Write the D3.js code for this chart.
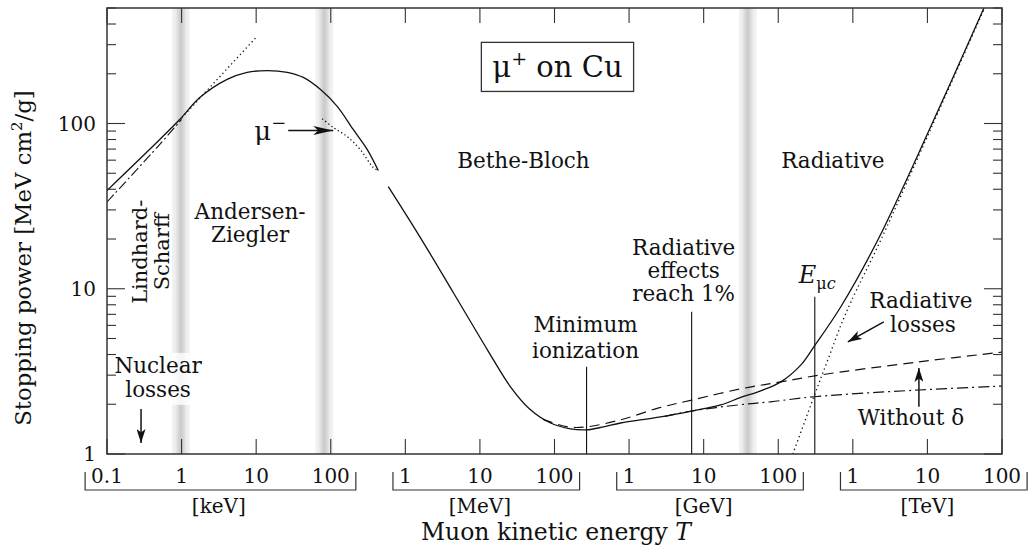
<!DOCTYPE html>
<html><head><meta charset="utf-8">
<script src="https://cdn.jsdelivr.net/npm/d3@7"></script>
<style>
body{margin:0;background:#fff}
svg{display:block}
text{font-family:"DejaVu Serif",serif;fill:#111}
</style>
</head><body>
<svg id="c" width="1031" height="552"></svg>
<script>
// ---------------- DATA (kinetic energy T in MeV, stopping power in MeV cm^2/g) ----------------
// mu+ total, low-energy (Andersen-Ziegler) part
const lowT = [1e-4, 5.1e-4, 9.5e-4, 1.77e-3, 4.08e-3, 7.57e-3, 0.0141, 0.0261, 0.0428, 0.0723, 0.122, 0.200, 0.309, 0.434];
const lowS = [39.3, 80, 106, 144, 185, 204, 209, 204, 190, 161, 127, 92, 69.5, 51.9];
// mu+ total, Bethe-Bloch + radiative part
const mainT = [0.591, 1.59, 4.41, 12.6, 25.7, 47.6, 88.4, 164, 269, 455, 769, 2500, 6900, 16900, 31400, 58200, 108000, 200000, 300000, 690000, 2170000, 11100000, 57300000];
const mainS = [41.5, 20.4, 9.46, 4.27, 2.55, 1.85, 1.54, 1.42, 1.40, 1.46, 1.54, 1.67, 1.82, 1.98, 2.2, 2.41, 2.73, 3.45, 4.45, 7.78, 19.8, 95.9, 500];
// mu- (dotted)
const muMinusT = [0.0769, 0.108, 0.166, 0.249, 0.372, 0.434];
const muMinusS = [107, 94.6, 83.4, 69.5, 54.1, 51.9];
// Lindhard-Scharff (dotted)
const lindT = [1e-3, 1.03e-2];
const lindS = [108, 337];
// low-energy dash-dot
const lowDashDotT = [1e-4, 5e-4, 1e-3];
const lowDashDotS = [33.5, 74, 106];
// ionization without density effect (dashed)
const noDeltaT = [70, 150, 269, 769, 2500, 6900, 31400, 108000, 372000, 7690000, 106000000];
const noDeltaS = [1.62, 1.46, 1.46, 1.61, 1.9, 2.12, 2.48, 2.73, 3.01, 3.61, 4.15];
// ionization with density effect (dash-dot)
const ionT = [3000, 6900, 28600, 79300, 300000, 7690000, 106000000];
const ionS = [1.69, 1.82, 1.98, 2.07, 2.22, 2.44, 2.58];
// radiative losses (dotted)
const radT = [157000, 300000, 462000, 690000, 940000, 2380000, 11000000, 57300000];
const radS = [1.0, 2.22, 3.71, 6.0, 8.3, 19.8, 92, 490];
// region boundaries (grey bands), MeV
const bandT = [0.00098, 0.082, 39000];
// axis ticks
const yMajor = [1, 10, 100];
const yLabels = ["1", "10", "100"];
const unitGroups = [
  {unit: "[keV]", labels: ["0.1", "1", "10", "100"], values: [1e-4, 1e-3, 1e-2, 1e-1]},
  {unit: "[MeV]", labels: ["1", "10", "100"], values: [1, 10, 100]},
  {unit: "[GeV]", labels: ["1", "10", "100"], values: [1e3, 1e4, 1e5]},
  {unit: "[TeV]", labels: ["1", "10", "100"], values: [1e6, 1e7, 1e8]}
];
// special energies (MeV) for vertical markers: [T, top S]
const minIon = [269, 3.37];
const rad1pct = [6900, 7.26];
const eMuC = [309000, 8.95];

// ---------------- LAYOUT ----------------
const L = 107, R = 1002, T0 = 8, B = 454;
const svg = d3.select("#c");
const x = d3.scaleLog().domain([1e-4, 1e8]).range([L, R]);
const y = d3.scaleLog().domain([1, 500]).range([B, T0]);
const P = (lt, ls) => [x(Math.pow(10, lt)), y(Math.pow(10, ls))];

const defs = svg.append("defs");
const g = defs.append("linearGradient").attr("id", "band").attr("x1", 0).attr("x2", 1).attr("y1", 0).attr("y2", 0);
[[0, "#f4f4f4"], [0.2, "#ececec"], [0.32, "#dcdcdc"], [0.5, "#c9c9c9"], [0.68, "#dcdcdc"], [0.8, "#ececec"], [1, "#f4f4f4"]]
  .forEach(([o, c]) => g.append("stop").attr("offset", o).attr("stop-color", c));
defs.append("clipPath").attr("id", "clip").append("rect").attr("x", L).attr("y", T0).attr("width", R - L).attr("height", B - T0);
function marker(id, len, half) {
  defs.append("marker").attr("id", id).attr("markerUnits", "userSpaceOnUse")
    .attr("viewBox", `0 ${-half} ${len} ${2 * half}`).attr("refX", len).attr("refY", 0)
    .attr("markerWidth", len).attr("markerHeight", 2 * half).attr("orient", "auto")
    .append("path").attr("d", `M0,${-half}L${len},0L0,${half}L${len * 0.25},0Z`).attr("fill", "#111");
}
marker("ah", 14, 4.5);
marker("ahLong", 20, 4.5);

// grey bands
svg.append("g").selectAll("rect").data(bandT).join("rect")
  .attr("x", d => x(d) - 9).attr("y", T0).attr("width", 18).attr("height", B - T0).attr("fill", "url(#band)");

// white-ish background behind "Nuclear losses"
{
  const [cx, cy] = P(-3.315, 0.491);
  svg.append("rect").attr("x", cx - 42).attr("y", cy - 20).attr("width", 84).attr("height", 52)
    .attr("fill", "#fff").attr("opacity", 0.8);
}

// ticks
const tk = svg.append("g").attr("stroke", "#333").attr("stroke-width", 1.1);
const decades = d3.range(-4, 9).map(e => Math.pow(10, e));
decades.forEach(v => {
  tk.append("line").attr("x1", x(v)).attr("x2", x(v)).attr("y1", B).attr("y2", B - 15);
  tk.append("line").attr("x1", x(v)).attr("x2", x(v)).attr("y1", T0).attr("y2", T0 + 15);
});
const yTicks = y.ticks(20).filter(v => v >= 1 && v <= 500);
yTicks.forEach(v => {
  const major = yMajor.includes(v);
  const len = major ? 18 : 9;
  tk.append("line").attr("x1", L).attr("x2", L + len).attr("y1", y(v)).attr("y2", y(v));
  tk.append("line").attr("x1", R).attr("x2", R - len).attr("y1", y(v)).attr("y2", y(v));
});

// curves
const line = d3.line().x(d => x(d[0])).y(d => y(d[1])).curve(d3.curveCatmullRom.alpha(0.5));
const zip = (a, b) => a.map((v, i) => [v, b[i]]);
const cg = svg.append("g").attr("clip-path", "url(#clip)").attr("fill", "none").attr("stroke", "#111");
function curve(tArr, sArr, dash, w) {
  cg.append("path").attr("d", line(zip(tArr, sArr))).attr("stroke-width", w || 1.3)
    .attr("stroke-dasharray", dash || null);
}
curve(lindT, lindS, "1.3,3");
curve(lowDashDotT, lowDashDotS, "10,3,2,3", 1.1);
curve(muMinusT, muMinusS, "1.3,2.6");
curve(radT, radS, "1.3,3.2");
curve(noDeltaT, noDeltaS, "10,6", 1.2);
curve(ionT, ionS, "11,4,2,4", 1.2);
curve(lowT, lowS, null, 1.3);
curve(mainT, mainS, null, 1.3);

// vertical marker lines
const vl = svg.append("g").attr("stroke", "#111").attr("stroke-width", 1.1);
[minIon, rad1pct, eMuC].forEach(([t, s]) => {
  vl.append("line").attr("x1", x(t)).attr("x2", x(t)).attr("y1", B).attr("y2", y(s));
});

// arrows
function arrow(a, b, id) {
  svg.append("line").attr("x1", x(a[0])).attr("y1", y(a[1])).attr("x2", x(b[0])).attr("y2", y(b[1]))
    .attr("stroke", "#111").attr("stroke-width", 1.5).attr("marker-end", `url(#${id})`);
}
arrow([2.86e-4, 1.87], [2.86e-4, 1.166], "ah");
arrow([0.0269, 90.7], [0.108, 90.7], "ahLong");
arrow([2.6e6, 6.31], [8.57e5, 4.77], "ah");
arrow([7.69e6, 1.93], [7.69e6, 3.32], "ah");

// frame
svg.append("rect").attr("x", L).attr("y", T0).attr("width", R - L).attr("height", B - T0)
  .attr("fill", "none").attr("stroke", "#333").attr("stroke-width", 1.5);

// ---------------- TEXT ----------------
function txt(lt, ls, str, size, anchor) {
  const [px, py] = P(lt, ls);
  return svg.append("text").attr("x", px).attr("y", py).attr("font-size", size || 21.5)
    .attr("text-anchor", anchor || "middle").text(str);
}
// y labels
yMajor.forEach((v, i) => {
  svg.append("text").attr("x", 96).attr("y", y(v)).attr("dy", "0.36em").attr("text-anchor", "end")
    .attr("font-size", 20).text(yLabels[i]);
});
// y title
{
  const t = svg.append("text").attr("transform", "translate(31,258) rotate(-90)").attr("text-anchor", "middle").attr("font-size", 22.8);
  t.append("tspan").text("Stopping power [MeV cm");
  t.append("tspan").attr("dy", -9).attr("font-size", 15).text("2");
  t.append("tspan").attr("dy", 9).text("/g]");
}
// x unit groups
unitGroups.forEach(gp => {
  const gg = svg.append("g");
  const tx = gp.values.map((v, i) => gg.append("text").attr("x", x(v)).attr("y", 483).attr("text-anchor", "middle")
    .attr("font-size", 20).text(gp.labels[i]));
  const b0 = tx[0].node().getBBox(), b1 = tx[tx.length - 1].node().getBBox();
  const xl = b0.x - 6, xr = b1.x + b1.width + 6;
  gg.append("path").attr("d", `M${xl},472V490H${xr}V472`).attr("fill", "none").attr("stroke", "#333").attr("stroke-width", 1.2);
  const mid = Math.sqrt(gp.values[0] * gp.values[gp.values.length - 1]);
  gg.append("text").attr("x", x(mid)).attr("y", 513).attr("text-anchor", "middle").attr("font-size", 20).text(gp.unit);
});
// x title
{
  const t = svg.append("text").attr("x", 556).attr("y", 540).attr("text-anchor", "middle").attr("font-size", 23.5);
  t.append("tspan").text("Muon kinetic energy ");
  t.append("tspan").attr("font-style", "italic").text("T");
}
// title box
{
  const [cx, cy] = P(2.040, 2.279);
  const t = svg.append("text").attr("x", cx).attr("y", cy).attr("text-anchor", "middle").attr("font-size", 29);
  t.append("tspan").text("μ");
  t.append("tspan").attr("dy", -12).attr("font-size", 19).text("+");
  t.append("tspan").attr("dy", 12).text(" on Cu");
  const bb = t.node().getBBox();
  const [, top] = P(0, 2.491), [, bot] = P(0, 2.194);
  svg.append("rect").attr("x", bb.x - 11).attr("y", top).attr("width", bb.width + 22).attr("height", bot - top)
    .attr("fill", "none").attr("stroke", "#333").attr("stroke-width", 1.3);
}
// region labels
txt(1.584, 1.733, "Bethe-Bloch");
txt(5.732, 1.733, "Radiative");
txt(-2.081, 1.424, "Andersen-");
txt(-2.081, 1.285, "Ziegler");
{
  const [x1, yc] = P(-3.463, 1.224), [x2] = P(-3.168, 1.224);
  svg.append("text").attr("transform", `translate(${x1},${yc}) rotate(-90)`).attr("text-anchor", "middle").attr("font-size", 21).text("Lindhard-");
  svg.append("text").attr("transform", `translate(${x2},${yc}) rotate(-90)`).attr("text-anchor", "middle").attr("font-size", 21).text("Scharff");
}
txt(-3.315, 0.491, "Nuclear");
txt(-3.315, 0.345, "losses");
{
  const t = txt(-1.597, 1.903, "", 26, "end");
  t.append("tspan").text("μ");
  t.append("tspan").attr("dy", -11).attr("font-size", 18).text("−");
}
txt(2.416, 0.736, "Minimum", 21.5);
txt(2.416, 0.582, "ionization", 21.5);
txt(3.732, 1.206, "Radiative");
txt(3.732, 1.067, "effects");
txt(3.732, 0.927, "reach 1%");
{
  const t = txt(5.275, 1.036, "", 24, "start");
  t.append("tspan").attr("font-style", "italic").text("E");
  t.append("tspan").attr("dy", 6).attr("font-size", 16).text("μ");
  t.append("tspan").attr("font-size", 16).attr("font-style", "italic").text("c");
}
txt(6.913, 0.885, "Radiative");
txt(6.940, 0.739, "losses");
txt(6.779, 0.176, "Without δ");
</script>
</body></html>
